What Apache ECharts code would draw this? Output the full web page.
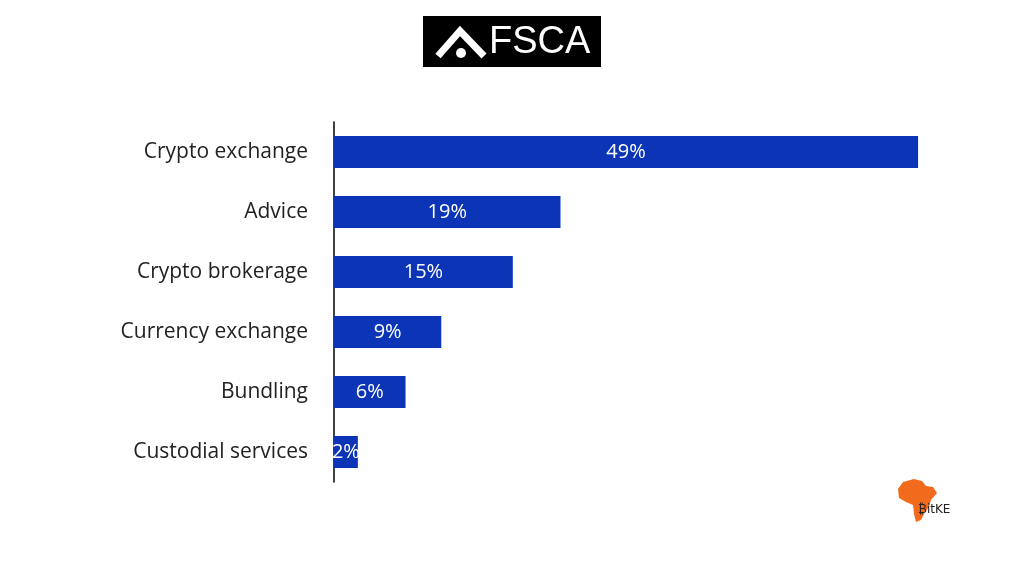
<!DOCTYPE html>
<html>
<head>
<meta charset="utf-8">
<script src="https://cdn.jsdelivr.net/npm/echarts@6/dist/echarts.min.js"></script>
<style>
  html, body { margin: 0; padding: 0; background: #fff; }
  #chart { width: 1024px; height: 576px; }
</style>
</head>
<body>
<div id="chart"></div>
<script>
// categories top to bottom
const categories = ["Crypto exchange", "Advice", "Crypto brokerage", "Currency exchange", "Bundling", "Custodial services"];
const shares = [49, 19, 15, 9, 6, 2];

let chart = echarts.init(document.getElementById("chart"));

chart.setOption({
    backgroundColor: "#ffffff",
    animation: false,
    grid: {
        left: 334,
        right: 94,
        top: 122,
        bottom: 94,
    },
    xAxis: {
        type: "value",
        min: 0,
        max: 50,
        show: false,
    },
    yAxis: {
        type: "category",
        inverse: true,
        data: categories,
        axisLine: {
            show: true,
            lineStyle: { color: "#000", width: 1.5 },
        },
        axisTick: { show: false },
        axisLabel: {
            color: "#222",
            fontFamily: "Open Sans",
            fontSize: 21,
            margin: 26,
        },
    },
    series: [
        {
            type: "bar",
            data: shares,
            barWidth: 32,
            itemStyle: { color: "#0b35b6" },
            label: {
                show: true,
                position: "inside",
                formatter: "{c}%",
                color: "#fff",
                fontFamily: "Open Sans",
                fontSize: 20,
            },
        },
    ],
    graphic: [
        // FSCA logo
        {
            type: "rect",
            shape: { x: 423, y: 16, width: 178, height: 51 },
            style: { fill: "#000" },
        },
        {
            type: "polyline",
            shape: { points: [[438, 56], [460, 31], [484, 56]] },
            style: { stroke: "#fff", lineWidth: 7, fill: null },
        },
        {
            type: "circle",
            shape: { cx: 461, cy: 53, r: 5 },
            style: { fill: "#fff" },
        },
        {
            type: "text",
            left: 489,
            top: 24,
            style: {
                text: "FSCA",
                fill: "#fff",
                font: "38px 'Liberation Sans', Arial, sans-serif",
            },
        },
        // BitKE mark
        {
            type: "polygon",
            shape: {
                points: [[903, 482], [914, 479], [922, 481], [926, 486], [933, 487], [937, 493],
                    [931, 500], [929, 507], [925, 512], [921, 520], [916, 522], [914, 514],
                    [913, 505], [906, 502], [899, 498], [898, 489]],
            },
            style: { fill: "#f26b1d" },
        },
        {
            type: "text",
            left: 918,
            top: 504,
            style: {
                text: "₿itKE",
                fill: "#222",
                font: "12px 'DejaVu Sans', sans-serif",
            },
        },
    ],
});
</script>
</body>
</html>
